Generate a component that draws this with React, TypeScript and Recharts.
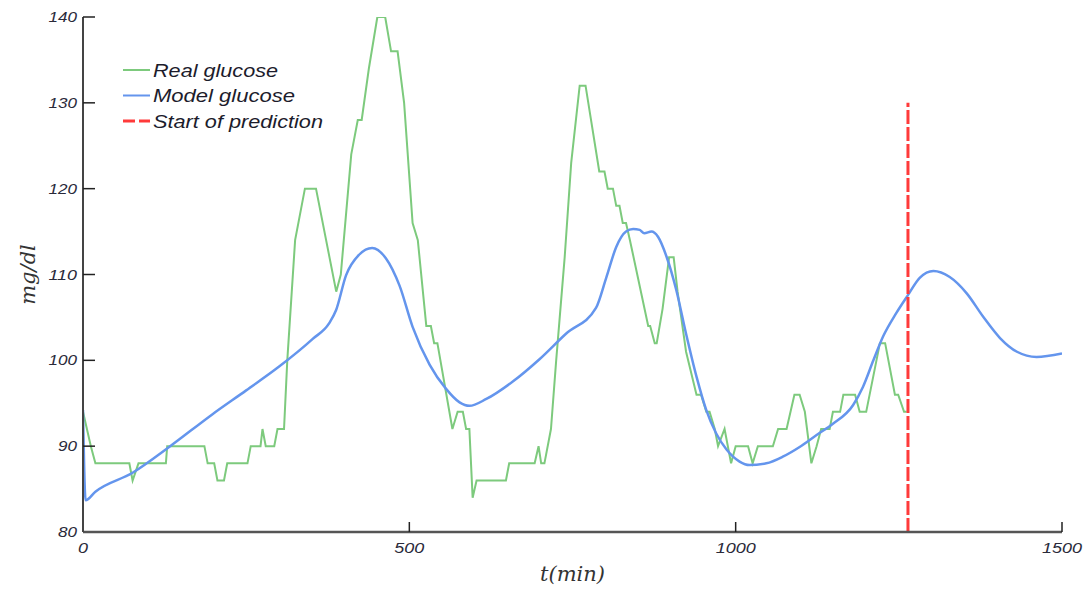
import React from 'react';
import { LineChart, Line, XAxis, YAxis, Label } from 'recharts';

// real (measured) glucose, step-like CGM readings
const realT = [0, 12, 19, 71, 76, 85, 127, 129, 186, 191, 201, 206, 216, 221, 252, 257, 272, 275, 280, 293, 298, 308, 313, 325, 340, 357, 388, 395, 411, 421, 427, 438, 451, 463, 472, 482, 492, 505, 513, 526, 533, 538, 543, 566, 574, 582, 587, 592, 597, 603, 648, 653, 692, 698, 702, 707, 717, 725, 738, 748, 761, 770, 791, 799, 804, 812, 817, 822, 827, 832, 838, 866, 869, 876, 879, 888, 898, 905, 911, 924, 940, 947, 955, 960, 968, 973, 983, 993, 1000, 1019, 1026, 1034, 1057, 1065, 1078, 1090, 1098, 1106, 1116, 1124, 1131, 1144, 1149, 1160, 1165, 1183, 1190, 1200, 1221, 1229, 1244, 1249, 1258, 1262];
const realV = [94, 90, 88, 88, 86, 88, 88, 90, 90, 88, 88, 86, 86, 88, 88, 90, 90, 92, 90, 90, 92, 92, 100, 114, 120, 120, 108, 110, 124, 128, 128, 134, 140, 140, 136, 136, 130, 116, 114, 104, 104, 102, 102, 92, 94, 94, 92, 92, 84, 86, 86, 88, 88, 90, 88, 88, 92, 100, 112, 123, 132, 132, 122, 122, 120, 120, 118, 118, 116, 116, 114, 104, 104, 102, 102, 106, 112, 112, 108, 101, 96, 96, 94, 94, 92, 90, 92, 88, 90, 90, 88, 90, 90, 92, 92, 96, 96, 94, 88, 90, 92, 92, 94, 94, 96, 96, 94, 94, 102, 102, 96, 96, 94, 94];

// model glucose
const modelT = [0, 4, 19, 76, 132, 198, 250, 301, 352, 377, 388, 403, 423, 443, 464, 485, 505, 531, 556, 577, 592, 618, 658, 699, 740, 786, 802, 817, 832, 843, 853, 860, 871, 881, 894, 909, 924, 940, 955, 970, 986, 1006, 1021, 1047, 1073, 1098, 1124, 1149, 1180, 1195, 1211, 1226, 1246, 1264, 1282, 1303, 1328, 1354, 1379, 1405, 1431, 1461, 1500];
const modelV = [94.2, 83.7, 84.7, 86.9, 89.9, 93.7, 96.5, 99.3, 102.5, 104.3, 105.9, 109.9, 112.3, 113.1, 111.9, 108.7, 103.9, 99.5, 96.7, 95.1, 94.7, 95.5, 97.5, 100.1, 103.1, 106.1, 109.7, 113.2, 115, 115.3, 115.2, 114.8, 115, 114.4, 112.1, 108.2, 103.1, 98.1, 94.2, 91.5, 89.6, 88.2, 87.8, 88, 88.8, 89.9, 91.3, 92.6, 94.8, 96.9, 100, 102.8, 105.5, 107.6, 109.6, 110.4, 109.7, 107.8, 105.1, 102.6, 101, 100.4, 100.8];

// start of prediction marker
const predT = [1264, 1264];
const predV = [80, 130];

const xTicks = [0, 500, 1000, 1500];
const yTicks = [80, 90, 100, 110, 120, 130, 140];

const legendItems = [
  { name: 'Real glucose', color: '#7dca7d', dash: undefined as string | undefined, width: 2, len: 125 },
  { name: 'Model glucose', color: '#6495ed', dash: undefined as string | undefined, width: 2, len: 142 },
  { name: 'Start of prediction', color: '#ff3a3a', dash: '12 4', width: 3, len: 170 },
];

const realData = realT.map((t, i) => ({ t, v: realV[i] }));
const modelData = modelT.map((t, i) => ({ t, v: modelV[i] }));
const predData = predT.map((t, i) => ({ t, v: predV[i] }));

const tickFont = {
  fontFamily: '"Liberation Sans", Arial, sans-serif',
  fontStyle: 'italic',
  fontSize: 14,
  fill: '#2a2a3a',
};

const YTick = (props: any) => {
  const { x, y, payload } = props;
  const s = String(payload.value);
  return (
    <g>
      {payload.value !== 80 && (
        <line x1={x} x2={x + 12} y1={y} y2={y} stroke="#222" strokeWidth={1.5} />
      )}
      <text x={x - 6} y={y} dy={5} textAnchor="end" textLength={s.length * 9.5} lengthAdjust="spacingAndGlyphs" {...tickFont}>
        {s}
      </text>
    </g>
  );
};

const XTick = (props: any) => {
  const { x, y, payload } = props;
  const s = String(payload.value);
  return (
    <g>
      {payload.value !== 0 && (
        <line x1={x} x2={x} y1={y} y2={y - 10} stroke="#222" strokeWidth={1.5} />
      )}
      <text x={x} y={y} dy={21} textAnchor="middle" textLength={s.length * 10} lengthAdjust="spacingAndGlyphs" {...tickFont}>
        {s}
      </text>
    </g>
  );
};

const LegendBox = () => (
  <svg width={230} height={80} style={{ position: 'absolute', left: 120, top: 58 }}>
    {legendItems.map((it, i) => {
      const cy = 12 + i * 25.5;
      return (
        <g key={it.name}>
          <line x1={3} x2={30} y1={cy} y2={cy} stroke={it.color} strokeWidth={it.width} strokeDasharray={it.dash} />
          <text
            x={33}
            y={cy}
            dy={6.5}
            textLength={it.len}
            lengthAdjust="spacingAndGlyphs"
            fontFamily='"Liberation Sans", Arial, sans-serif'
            fontStyle="italic"
            fontSize={18}
            fill="#1c1c2c"
          >
            {it.name}
          </text>
        </g>
      );
    })}
  </svg>
);

export default function App() {
  return (
    <div style={{ position: 'absolute', left: 0, top: 0, width: 1088, height: 596, background: '#fff' }}>
      <LineChart width={1088} height={596} data={realData} margin={{ top: 17, right: 26, bottom: 14, left: 8 }}>
        <XAxis
          dataKey="t"
          type="number"
          domain={[0, 1500]}
          ticks={xTicks}
          tickSize={0}
          tickMargin={0}
          tickLine={false}
          tick={XTick}
          axisLine={{ stroke: '#555', strokeWidth: 2.5 }}
          height={50}
          allowDataOverflow
        >
          <Label
            value="t(min)"
            position="insideBottom"
            offset={1}
            style={{ fontFamily: '"DejaVu Serif", "Liberation Serif", serif', fontStyle: 'italic', fontSize: 21, fill: '#333' }}
          />
        </XAxis>
        <YAxis
          type="number"
          domain={[80, 140]}
          ticks={yTicks}
          tickSize={0}
          tickMargin={0}
          tickLine={false}
          tick={YTick}
          axisLine={{ stroke: '#444', strokeWidth: 2 }}
          width={75}
          allowDataOverflow
        >
          <Label
            value="mg/dl"
            angle={-90}
            position="insideLeft"
            offset={20}
            style={{ fontFamily: '"DejaVu Serif", "Liberation Serif", serif', fontStyle: 'italic', fontSize: 21, fill: '#333', textAnchor: 'middle' }}
          />
        </YAxis>
        <Line data={realData} dataKey="v" type="linear" stroke="#7dca7d" strokeWidth={2} dot={false} isAnimationActive={false} name="Real glucose" />
        <Line data={modelData} dataKey="v" type="monotone" stroke="#6495ed" strokeWidth={2.5} dot={false} isAnimationActive={false} name="Model glucose" />
        <Line data={predData} dataKey="v" type="linear" stroke="#ff3a3a" strokeWidth={3} strokeDasharray="14 3" dot={false} isAnimationActive={false} name="Start of prediction" />
      </LineChart>
      <LegendBox />
    </div>
  );
}
